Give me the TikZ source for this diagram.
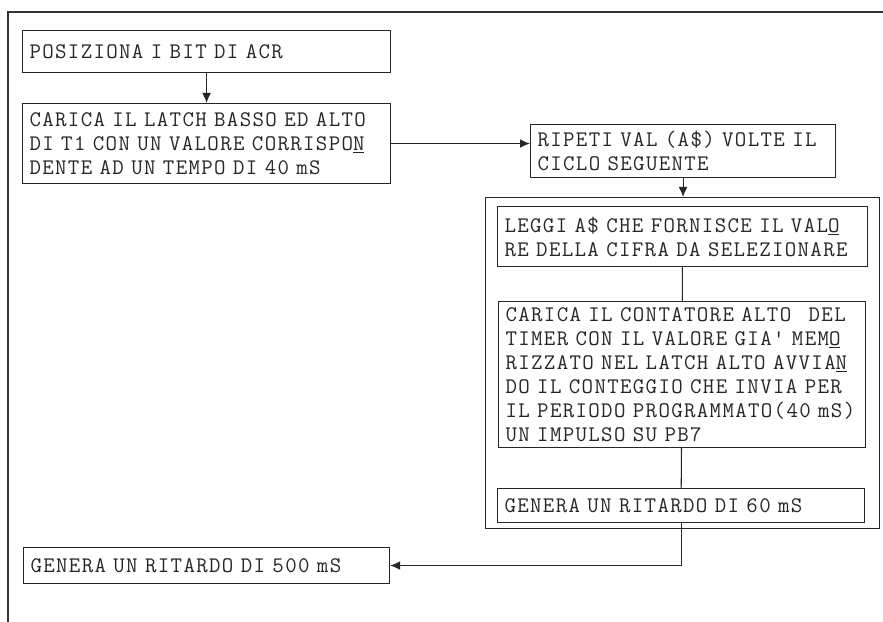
\documentclass[tikz,border=0pt]{standalone}
\usepackage{fontspec}
\setmonofont{Latin Modern Mono}[LetterSpace=6]
\usetikzlibrary{arrows.meta}

\begin{document}
\begin{tikzpicture}[x=0.03cm,y=-0.03cm,line width=0.9pt,>={Latex[length=3mm,width=2.6mm]},
  blocco/.style={draw=black!85,anchor=north west,align=left,inner xsep=6pt,inner ysep=0pt,
    text=black!85,font=\ttfamily\fontsize{19}{20.5}\selectfont}]
  \useasboundingbox (0,0) rectangle (883,622);
  % cornice esterna
  \draw[black!80] (8,622) -- (8,12) -- (883,12);
  % blocchi a sinistra
  \node[blocco,text width=10.62cm,minimum height=1.26cm] (acr) at (22,30) {POSIZIONA I BIT DI ACR};
  \node[blocco,text width=10.62cm,minimum height=2.4cm] (latch) at (22,103)
    {CARICA IL LATCH BASSO ED ALTO\\DI T1 CON UN VALORE CORRISPO\underline{N}\\DENTE AD UN TEMPO DI 40 mS};
  \node[blocco,text width=8.73cm,minimum height=1.59cm] (ripeti) at (530,124)
    {RIPETI VAL (A\$) VOLTE IL\\CICLO SEGUENTE};
  % ciclo ripetuto
  \node[draw=black!85,anchor=north west,minimum width=11.82cm,minimum height=9.93cm,inner sep=0pt] (ciclo) at (485,197) {};
  \node[blocco,text width=10.68cm,minimum height=1.8cm] (leggi) at (497,206)
    {LEGGI A\$ CHE FORNISCE IL VAL\underline{O}\\RE DELLA CIFRA DA SELEZIONARE};
  \node[blocco,text width=10.59cm,minimum height=4.38cm] (carica) at (498,301)
    {CARICA IL CONTATORE ALTO\hspace{0.45em} DEL\\TIMER CON IL VALORE GIA' MEM\underline{O}\\RIZZATO NEL LATCH ALTO AVVIA\underline{N}\\DO IL CONTEGGIO CHE INVIA PER\\IL PERIODO PROGRAMMATO(40 mS)\\UN IMPULSO SU PB7};
  \node[blocco,text width=10.59cm,minimum height=1.02cm] (rit60) at (497,488) {GENERA UN RITARDO DI 60 mS};
  \node[blocco,text width=10.56cm,minimum height=1.08cm] (rit500) at (23,547) {GENERA UN RITARDO DI 500 mS};
  % collegamenti
  \draw[->,black!85] (acr) -- (latch);
  \draw[->,black!85] (latch.east) -- (latch.east -| ripeti.west);
  \draw[->,black!85] (ripeti) -- (ripeti.south |- ciclo.north);
  \draw[black!85] (leggi) -- (carica);
  \draw[black!85] (carica) -- (rit60);
  \draw[->,black!85] (rit60.south) |- (rit500.east);
\end{tikzpicture}
\end{document}
